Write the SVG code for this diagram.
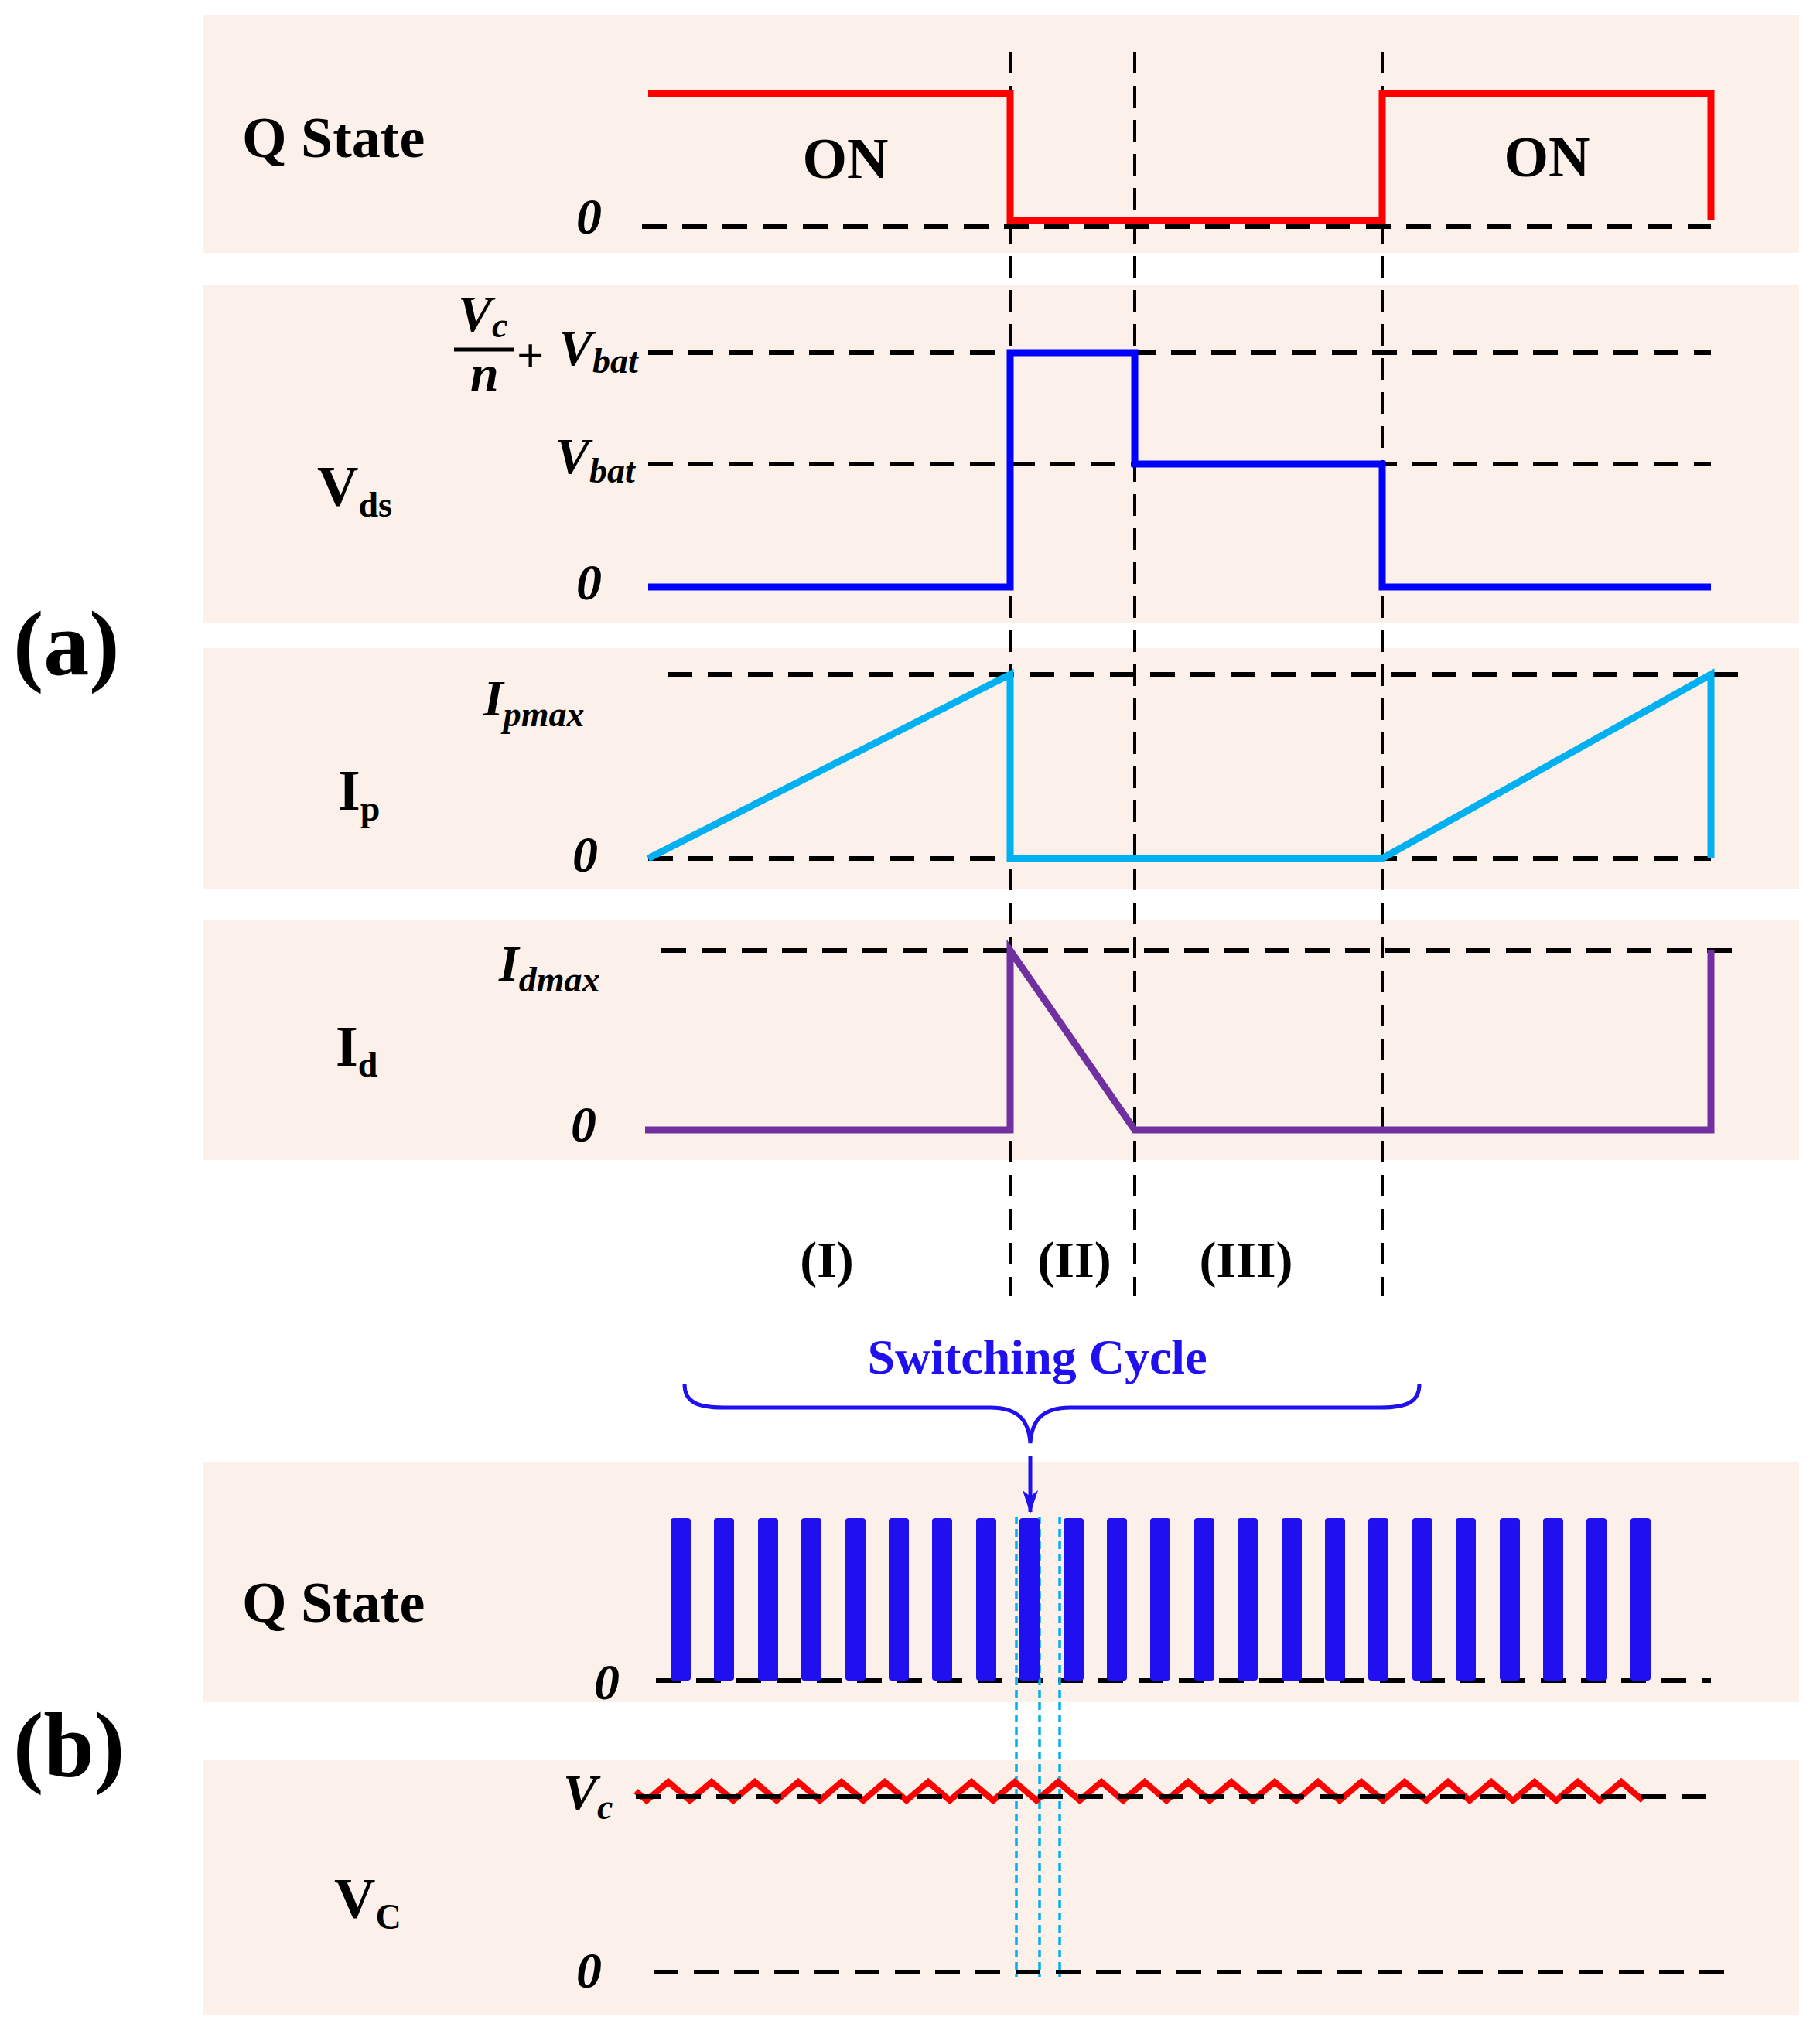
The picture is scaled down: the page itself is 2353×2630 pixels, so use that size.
<svg xmlns="http://www.w3.org/2000/svg" width="2353" height="2630" viewBox="0 0 2353 2630">
<style>
.bg{fill:#FBF1EA}
.lbl{font-family:"Liberation Serif",serif;font-weight:bold;font-size:74px;fill:#000}
.it{font-family:"Liberation Serif",serif;font-style:italic;font-weight:bold;font-size:66px;fill:#000}
.sub{font-size:46px}
.dash{stroke:#000;stroke-width:6;stroke-dasharray:32,20;fill:none}
.vd{stroke:#000;stroke-width:4;stroke-dasharray:28,16;fill:none}
.w{fill:none;stroke-width:9;stroke-linejoin:miter}
</style>
<defs>
<marker id="ah" markerWidth="20" markerHeight="30" refX="10" refY="28" orient="0" markerUnits="userSpaceOnUse" viewBox="0 0 20 30"><path d="M0,0 L10,8 L20,0 L10,30 z" fill="#2010EF"/></marker>
</defs>
<g id="panels">
<rect class="bg" x="263" y="20" width="2063" height="307"/>
<rect class="bg" x="263" y="369" width="2063" height="436"/>
<rect class="bg" x="263" y="838" width="2063" height="312"/>
<rect class="bg" x="263" y="1190" width="2063" height="310"/>
<rect class="bg" x="263" y="1890" width="2063" height="311"/>
<rect class="bg" x="263" y="2276" width="2063" height="330"/>
</g>
<g id="connectors">
<path class="dash" d="M830,293H2212 M838,456H2212 M838,600H2212 M863,872H2266 M838,1110H2212 M855,1229H2254 M848,2173H2212 M845,2550H2230"/>
<path class="vd" d="M1306,67V1676 M1467,67V1676 M1787,67V1676"/>
<path d="M1314,1961V2556 M1344,1961V2556 M1370,1961V2556" stroke="#00B0F0" stroke-width="3.5" stroke-dasharray="10,6" fill="none"/>
<path d="M885,1790 C885,1812 900,1820 935,1820 L1280,1820 C1318,1820 1330,1838 1332,1866 C1334,1838 1346,1820 1384,1820 L1785,1820 C1820,1820 1835,1812 1835,1790" fill="none" stroke="#2010EF" stroke-width="5"/>
<path d="M1332,1882V1955" stroke="#2010EF" stroke-width="5" marker-end="url(#ah)"/>
</g>
<g id="qstate-a">
<path class="w" stroke="#FF0000" d="M838,121H1306V285H1787V121H2212V285"/>
<text class="lbl" x="313" y="203">Q State</text>
<text class="lbl" x="1093" y="230" text-anchor="middle">ON</text>
<text class="lbl" x="2000" y="228" text-anchor="middle">ON</text>
<text class="it" x="745" y="302">0</text>
</g>
<g id="vds">
<path class="w" stroke="#0000FF" d="M838,759H1306V456H1467V600H1787V759H2212"/>
<text class="lbl" x="410" y="654">V<tspan class="sub" dy="14">ds</tspan></text>
<text class="it" x="592" y="428">V<tspan class="sub" dy="8">c</tspan></text>
<line x1="587" y1="452" x2="664" y2="452" stroke="#000" stroke-width="5"/>
<text class="it" x="608" y="505">n</text>
<text class="lbl" x="668" y="480" style="font-size:62px">+</text>
<text class="it" x="722" y="472">V<tspan class="sub" dy="10">bat</tspan></text>
<text class="it" x="718" y="612">V<tspan class="sub" dy="12">bat</tspan></text>
<text class="it" x="745" y="775">0</text>
<text class="lbl" x="17" y="872" style="font-size:118px">(a)</text>
</g>
<g id="ip">
<path class="w" stroke="#00B0F0" d="M838,1110L1306,872V1110H1787L2212,872V1110"/>
<text class="lbl" x="437" y="1047">I<tspan class="sub" dy="14">p</tspan></text>
<text class="it" x="625" y="925">I<tspan class="sub" dy="14">pmax</tspan></text>
<text class="it" x="740" y="1127">0</text>
</g>
<g id="id">
<path class="w" stroke="#7030A0" d="M834,1461H1306V1229L1467,1461H2212V1229"/>
<text class="lbl" x="434" y="1378">I<tspan class="sub" dy="14">d</tspan></text>
<text class="it" x="645" y="1268">I<tspan class="sub" dy="14">dmax</tspan></text>
<text class="it" x="738" y="1476">0</text>
</g>
<g id="phases">
<text class="lbl" x="1069" y="1651" text-anchor="middle" style="font-size:66px">(I)</text>
<text class="lbl" x="1389" y="1651" text-anchor="middle" style="font-size:66px">(II)</text>
<text class="lbl" x="1611" y="1651" text-anchor="middle" style="font-size:66px">(III)</text>
<text class="lbl" x="1341" y="1776" text-anchor="middle" style="font-size:64px;fill:#2010EF">Switching Cycle</text>
</g>
<g id="qstate-b" fill="#2010EF">
<rect x="867" y="1963" width="26" height="210" rx="4"/><rect x="923" y="1963" width="26" height="210" rx="4"/><rect x="980" y="1963" width="26" height="210" rx="4"/><rect x="1036" y="1963" width="26" height="210" rx="4"/><rect x="1093" y="1963" width="26" height="210" rx="4"/><rect x="1149" y="1963" width="26" height="210" rx="4"/><rect x="1205" y="1963" width="26" height="210" rx="4"/><rect x="1262" y="1963" width="26" height="210" rx="4"/><rect x="1318" y="1963" width="26" height="210" rx="4"/><rect x="1375" y="1963" width="26" height="210" rx="4"/><rect x="1431" y="1963" width="26" height="210" rx="4"/><rect x="1487" y="1963" width="26" height="210" rx="4"/><rect x="1544" y="1963" width="26" height="210" rx="4"/><rect x="1600" y="1963" width="26" height="210" rx="4"/><rect x="1657" y="1963" width="26" height="210" rx="4"/><rect x="1713" y="1963" width="26" height="210" rx="4"/><rect x="1769" y="1963" width="26" height="210" rx="4"/><rect x="1826" y="1963" width="26" height="210" rx="4"/><rect x="1882" y="1963" width="26" height="210" rx="4"/><rect x="1939" y="1963" width="26" height="210" rx="4"/><rect x="1995" y="1963" width="26" height="210" rx="4"/><rect x="2051" y="1963" width="26" height="210" rx="4"/><rect x="2108" y="1963" width="26" height="210" rx="4"/>
<text class="lbl" x="313" y="2097">Q State</text>
<text class="it" x="768" y="2197">0</text>
<text class="lbl" x="17" y="2296" style="font-size:118px">(b)</text>
</g>
<g id="vc">
<path fill="none" stroke="#FF0000" stroke-width="8" d="M822,2316 l14,12 l28,-24 l28,24 l28,-24 l28,24 l28,-24 l28,24 l28,-24 l28,24 l28,-24 l28,24 l28,-24 l28,24 l28,-24 l28,24 l28,-24 l28,24 l28,-24 l28,24 l28,-24 l28,24 l28,-24 l28,24 l28,-24 l28,24 l28,-24 l28,24 l28,-24 l28,24 l28,-24 l28,24 l28,-24 l28,24 l28,-24 l28,24 l28,-24 l28,24 l28,-24 l28,24 l28,-24 l28,24 l28,-24 l28,24 l28,-24 l28,24 l28,-24 l28,24"/>
<path class="dash" d="M822,2323H2212"/>
<text class="it" x="728" y="2340">V<tspan class="sub" dy="12">c</tspan></text>
<text class="lbl" x="432" y="2480">V<tspan class="sub" dy="14">C</tspan></text>
<text class="it" x="745" y="2570">0</text>
</g>
</svg>
